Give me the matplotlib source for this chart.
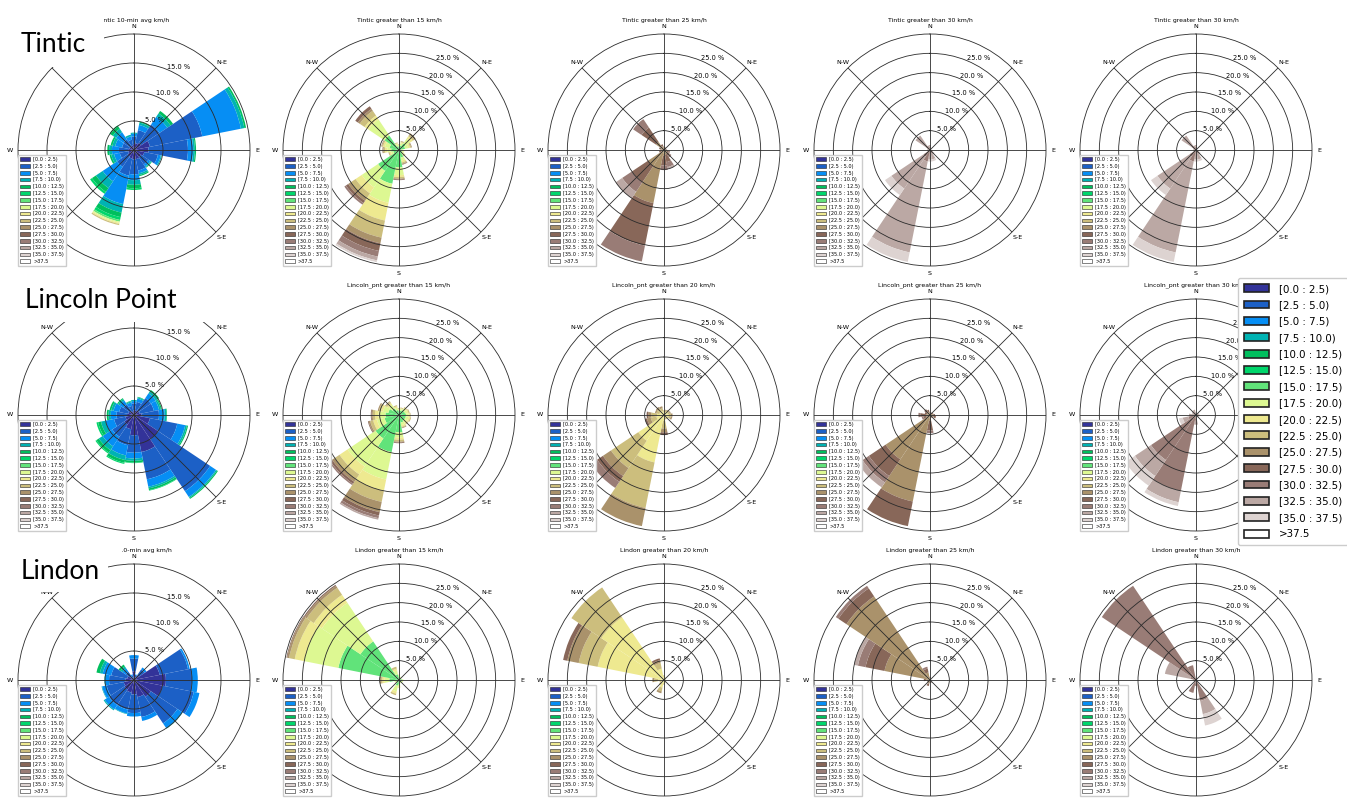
import numpy as np
import matplotlib.pyplot as plt
from matplotlib import cm
from matplotlib.patches import Patch, Rectangle

W, H = 1347, 800

# wind-speed classes (km/h)
speed_labels = ['[0.0 : 2.5)', '[2.5 : 5.0)', '[5.0 : 7.5)', '[7.5 : 10.0)',
                '[10.0 : 12.5)', '[12.5 : 15.0)', '[15.0 : 17.5)', '[17.5 : 20.0)',
                '[20.0 : 22.5)', '[22.5 : 25.0)', '[25.0 : 27.5)', '[27.5 : 30.0)',
                '[30.0 : 32.5)', '[32.5 : 35.0)', '[35.0 : 37.5)', '>37.5']
# 16 sectors: N, NNE, NE, ENE, E, ESE, SE, SSE, S, SSW, SW, WSW, W, WNW, NW, NNW
sector_deg = np.arange(16) * 22.5
compass = ['N', 'N-E', 'E', 'S-E', 'S', 'S-W', 'W', 'N-W']

# frequency (%) per sector, one entry per speed class starting at the panel's first class
tintic_all = [[1.0, 1.3, 0.5, 0.2], [1.2, 2.3, 0.9, 0.4, 0.2], [1.5, 3.8, 1.6, 0.7, 0.5],
              [2.8, 9.2, 6.8, 0.6, 0.3], [2.5, 6.8, 0.9, 0.3, 0.2], [1.8, 2.4, 0.5, 0.2],
              [1.5, 1.5, 0.4, 0.2, 0.1], [1.6, 2.0, 0.5, 0.3, 0.2], [1.6, 2.6, 1.0, 0.8, 0.6, 0.3],
              [1.5, 3.0, 5.0, 1.5, 0.8, 0.5, 0.3, 0.2, 0.2, 0.2], [1.3, 2.2, 3.0, 1.4, 0.8, 0.4],
              [1.0, 1.5, 1.0, 0.5, 0.3], [1.0, 1.6, 1.2, 0.5, 0.3], [0.8, 1.3, 1.2, 0.5, 0.3],
              [0.8, 1.4, 1.5, 0.7, 0.5, 0.2], [0.8, 1.0, 0.6, 0.3]]
tintic_15 = [[0.8, 0.4, 0.2, 0.1], [1.2, 0.6, 0.3, 0.2, 0.1], [2.0, 1.5, 0.8, 0.5, 0.4],
             [1.6, 0.8, 0.5, 0.3, 0.2], [0.6, 0.3, 0.2], [0.8, 0.4, 0.2],
             [1.0, 0.5, 0.3, 0.2], [2.0, 0.8, 0.5, 0.3, 0.2, 0.1], [4.5, 2.0, 0.5, 0.4, 0.2, 0.2],
             [8.9, 5.0, 4.7, 4.5, 1.5, 2.0, 1.5, 1.0, 0.5, 0.2], [6.5, 5.1, 1.9, 1.5, 0.8, 0.7, 0.5],
             [1.5, 0.6, 0.4, 0.3], [2.0, 1.0, 0.6, 0.4, 0.3], [2.5, 1.2, 0.5, 0.3, 0.2],
             [4.5, 5.0, 1.2, 1.5, 0.6, 0.8], [1.0, 0.5, 0.3, 0.2]]
tintic_25 = [[0.6, 0.3], [0.5, 0.3], [0.4, 0.2], [0.3, 0.2], [0.5, 0.3], [0.8, 0.5, 0.3],
             [1.0, 0.8, 0.5], [1.2, 2.0, 1.3, 0.5], [1.5, 2.5, 1.2], [14.0, 11.2, 4.2],
             [5.0, 5.0, 3.0, 2.0], [0.8, 0.5], [0.6, 0.3], [0.8, 0.5], [2.5, 4.5, 2.6], [1.0, 0.5]]
tintic_30 = [[0.8, 0.5], [0.4, 0.2], [0.3], [0.3], [0.3], [0.5, 0.3], [0.8, 0.6],
             [1.0, 1.5, 0.5], [1.0, 1.5, 0.5], [3.0, 24.0, 2.5], [2.0, 10.0, 2.0],
             [0.5, 0.3], [0.3], [0.5, 0.3], [1.5, 3.0], [0.8, 0.4]]
tintic_30b = [[0.8, 0.5], [0.4, 0.2], [0.3], [0.3], [0.3], [0.5, 0.3], [0.8, 0.6],
              [1.0, 1.5, 0.5], [1.0, 1.5, 0.5], [3.0, 24.0, 2.5], [2.0, 10.0, 2.0],
              [0.5, 0.3], [0.3], [0.5, 0.3], [1.5, 3.0], [0.8, 0.4]]

lincoln_all = [[0.8, 1.2, 0.4, 0.2], [0.8, 1.5, 0.6, 0.2, 0.1], [1.0, 2.5, 1.0, 0.4, 0.3],
               [1.0, 2.5, 0.9, 0.3, 0.2], [1.3, 3.0, 1.0, 0.3, 0.1], [2.8, 4.8, 1.4, 0.3, 0.2],
               [5.0, 10.8, 1.2, 0.2, 0.2], [6.5, 4.8, 1.3, 0.3, 0.3, 0.1], [3.5, 3.0, 1.0, 0.4, 0.3, 0.1],
               [2.5, 2.8, 1.8, 0.8, 0.5, 0.2], [2.0, 2.5, 2.0, 0.8, 0.5, 0.2], [1.5, 2.0, 1.5, 0.8, 0.5, 0.3],
               [1.2, 1.8, 1.0, 0.4, 0.3], [1.0, 1.6, 1.0, 0.4, 0.3], [0.8, 1.4, 0.8, 0.3, 0.2],
               [0.6, 1.0, 0.6, 0.2, 0.1]]
lincoln_15 = [[1.0, 0.4, 0.2, 0.2], [1.2, 0.4, 0.2, 0.2], [1.5, 0.5, 0.3, 0.2], [1.6, 0.6, 0.3, 0.3],
              [1.8, 0.6, 0.4, 0.2], [1.8, 0.7, 0.4, 0.3], [1.8, 0.6, 0.4, 0.2], [2.0, 0.7, 0.4, 0.2, 0.2],
              [4.5, 1.3, 0.6, 0.5, 0.2, 0.2], [9.8, 7.2, 3.0, 2.9, 2.7, 0.9, 0.7, 0.4],
              [7.3, 8.7, 2.5, 1.5, 0.8, 0.6, 0.4], [3.8, 2.0, 1.0, 0.8, 0.4, 0.2],
              [3.5, 1.8, 0.9, 0.6, 0.3, 0.2], [2.8, 1.4, 0.6, 0.5, 0.3], [2.0, 1.2, 0.5, 0.4, 0.2],
              [1.3, 0.6, 0.4, 0.3]]
lincoln_20 = [[0.8, 0.4], [0.8, 0.4, 0.2], [1.0, 0.4, 0.2], [1.0, 0.5, 0.3], [1.2, 0.6, 0.4],
              [1.2, 0.6, 0.4], [0.8, 0.4], [0.8, 0.4], [1.5, 2.0, 1.0, 0.7],
              [12.5, 12.0, 4.8], [8.0, 8.5, 2.5, 1.8, 1.9], [2.0, 1.5, 1.0, 0.5],
              [1.8, 1.5, 0.8, 0.4], [1.2, 0.8, 0.4], [1.2, 0.8, 0.5], [1.0, 0.8, 0.5]]
lincoln_25 = [[0.5, 0.3], [0.4, 0.2], [0.5, 0.3], [0.6, 0.3], [0.8, 0.5], [1.0, 0.6],
              [0.5, 0.3], [0.5, 0.3], [1.5, 2.5, 0.7], [22.8, 6.5], [13.8, 5.2, 2.0, 1.5],
              [1.0, 0.8, 0.4], [1.0, 1.5, 0.5], [0.8, 0.6], [1.0, 0.8], [0.8, 0.6]]
lincoln_30 = [[0.4, 0.2], [0.3], [0.3], [0.5, 0.3], [0.6, 0.3], [0.6, 0.3], [0.3], [0.3],
              [1.5, 1.0], [20.0, 3.0, 1.0], [14.0, 5.0, 3.0], [2.0, 1.5, 1.0],
              [1.0, 0.8], [0.6, 0.4], [0.8, 0.5], [0.8, 0.6]]

lindon_all = [[1.5, 2.2, 0.6], [0.5, 0.4, 0.1], [1.0, 1.2, 0.4], [4.5, 5.0, 0.3],
              [5.5, 4.5, 1.0], [5.0, 5.5, 1.0], [3.5, 5.5, 1.0, 0.1], [3.0, 3.5, 0.7],
              [2.5, 3.2, 0.6], [2.2, 3.0, 0.7, 0.1], [2.0, 3.2, 0.9, 0.2], [1.8, 3.0, 0.8, 0.1],
              [1.5, 2.8, 0.7, 0.1], [1.2, 2.8, 1.5, 0.5, 0.6], [0.5, 1.2, 0.7, 0.4, 0.4],
              [0.4, 0.4, 0.2]]
lindon_15 = [[0.8, 0.4, 0.2], [0.6, 0.3], [0.5, 0.2], [0.4, 0.2], [0.8, 0.3], [0.8, 0.3],
             [0.6, 0.3], [0.6, 0.3], [1.2, 0.5, 0.3], [1.5, 1.5, 0.6, 0.4], [0.6, 0.3],
             [0.8, 0.4], [2.5, 1.2, 0.6, 0.4, 0.3], [16.0, 9.0, 2.5, 1.5, 0.5, 0.2],
             [12.0, 12.0, 2.5, 2.2, 0.6, 0.3], [1.5, 1.0, 0.5, 0.5]]
lindon_20 = [[0.8, 0.4], [0.5, 0.3], [0.4], [0.4], [0.5], [0.5], [0.4], [0.5, 0.3],
             [0.8, 0.4], [2.0, 1.0, 0.5], [1.0, 0.5], [0.8, 0.4], [1.5, 1.0, 0.5],
             [17.5, 5.0, 3.0, 1.1], [19.5, 9.3], [3.0, 1.5, 0.7, 0.5]]
lindon_25 = [[0.5, 0.3], [0.3], [0.3], [0.3], [0.3], [0.3], [0.3], [0.5, 0.3],
             [0.5, 0.3], [1.0, 0.6], [0.5, 0.3], [0.5, 0.3], [1.0, 0.6],
             [12.0, 5.0, 2.0, 1.0], [26.0, 2.5, 0.8], [2.0, 1.0, 0.5]]
lindon_30 = [[0.5], [0.3], [0.2], [0.2], [0.2], [0.3], [0.3], [5.5, 3.5, 3.0],
             [1.5], [3.4], [0.5], [0.5], [0.8], [1.5, 6.7], [29.3], [3.9]]

stations = ['Tintic', 'Lincoln_pnt', 'Lindon']
station_labels = ['Tintic', 'Lincoln Point', 'Lindon']
row_data = [[tintic_all, tintic_15, tintic_25, tintic_30, tintic_30b],
            [lincoln_all, lincoln_15, lincoln_20, lincoln_25, lincoln_30],
            [lindon_all, lindon_15, lindon_20, lindon_25, lindon_30]]
row_thresholds = [[None, 15, 25, 30, 30], [None, 15, 20, 25, 30], [None, 15, 20, 25, 30]]
first_class = {None: 0, 15: 6, 20: 8, 25: 10, 30: 12}

# terrain colours, with the middle greens a little deeper
colors = [cm.terrain(v) for v in np.linspace(0.0, 1.0, 16)]
colors[4] = (0.0, 0.75, 0.37, 1.0)
colors[5] = (0.0, 0.84, 0.42, 1.0)
colors[6] = (0.38, 0.89, 0.48, 1.0)

fig = plt.figure(figsize=(W / 100, H / 100), dpi=100)

col_x = [134, 399, 664, 930, 1196]
row_y = [150, 415, 680]
rad = 116


def draw_rose(ax, data, start, rmax, title):
    ax.set_theta_zero_location('N')
    ax.set_theta_direction(-1)
    width = 2 * np.pi / 16
    for k, segs in enumerate(data):
        bottom = 0.0
        for j, v in enumerate(segs):
            ax.bar(np.deg2rad(sector_deg[k]), v, width=width, bottom=bottom,
                   color=colors[start + j], edgecolor='none', linewidth=0)
            bottom += v
    rings = [r for r in (5, 10, 15, 20, 25) if r < rmax]
    ax.set_ylim(0, rmax)
    ax.set_rgrids(rings, labels=['%.1f %%' % r for r in rings], angle=22.5, fontsize=4.8)
    ax.set_thetagrids(np.arange(0, 360, 45), compass, fontsize=4.6)
    ax.tick_params(axis='x', pad=-5)
    ax.grid(True, color='#2b2b2b', linewidth=0.6, linestyle='-')
    ax.spines['polar'].set_color('#2b2b2b')
    ax.spines['polar'].set_linewidth(0.6)
    ax.set_axisbelow(False)
    ax.set_title(title, fontsize=4.4, pad=1.5)
    handles = [Patch(facecolor=c, edgecolor='#222222', linewidth=0.4) for c in colors]
    ax.legend(handles, speed_labels, loc='lower left', fontsize=3.6, borderaxespad=0,
              handlelength=2.0, handleheight=0.75, labelspacing=0.36, borderpad=0.4,
              handletextpad=0.6, framealpha=1, edgecolor='#cccccc', fancybox=False)


for r in range(3):
    for c in range(5):
        cx, cy = col_x[c], row_y[r]
        ax = fig.add_axes([(cx - rad) / W, 1 - (cy + rad) / H, 2 * rad / W, 2 * rad / H],
                          projection='polar')
        thr = row_thresholds[r][c]
        if thr is None:
            title = '%s 10-min avg km/h' % stations[r]
            rmax = 20
        else:
            title = '%s greater than %d km/h' % (stations[r], thr)
            rmax = 30
        draw_rose(ax, row_data[r][c], first_class[thr], rmax, title)

# station names pasted over the first column
label_boxes = [[(0, 0, 104, 67)],
               [(0, 271, 205, 322)],
               [(0, 545, 122, 557), (0, 545, 108, 592)]]
label_pos = [(21, 52), (25, 308), (21, 579)]
for boxes, name, (tx, ty) in zip(label_boxes, station_labels, label_pos):
    for x0, y0, x1, y1 in boxes:
        fig.add_artist(Rectangle((x0 / W, 1 - y1 / H), (x1 - x0) / W, (y1 - y0) / H,
                                 transform=fig.transFigure, facecolor='white',
                                 edgecolor='none', zorder=10))
    fig.text(tx / W, 1 - ty / H, name, fontsize=19, family=['Lato', 'DejaVu Sans'],
             va='baseline', ha='left', zorder=11)

big_handles = [Patch(facecolor=c, edgecolor='#222222', linewidth=1.2) for c in colors]
fig.legend(big_handles, speed_labels, loc='upper left', bbox_to_anchor=(1238 / W, 1 - 278 / H),
           fontsize=7.4, handlelength=2.5, handleheight=0.8, labelspacing=0.62,
           borderpad=0.55, handletextpad=0.9, borderaxespad=0, framealpha=1)

fig.savefig('out.png', dpi=100, facecolor='white')
